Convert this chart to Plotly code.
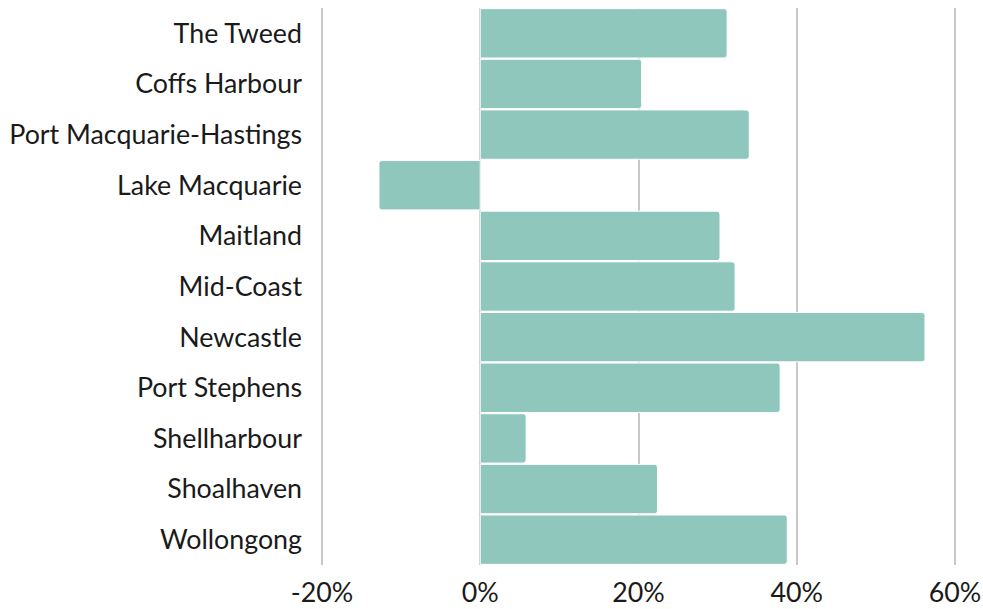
import plotly.graph_objects as go

regions = ["The Tweed", "Coffs Harbour", "Port Macquarie-Hastings", "Lake Macquarie",
           "Maitland", "Mid-Coast", "Newcastle", "Port Stephens", "Shellharbour",
           "Shoalhaven", "Wollongong"]
values = [31.2, 20.4, 34.0, -12.8, 30.3, 32.2, 56.2, 37.9, 5.8, 22.4, 38.8]
tick_vals = [-20, 0, 20, 40, 60]
tick_text = ["-20%", "0%", "20%", "40%", "60%"]

fig = go.Figure(go.Bar(
    y=regions, x=values, orientation="h",
    marker=dict(color="#90c7bd", line=dict(color="white", width=1)),
))
fig.update_layout(
    width=983, height=609,
    margin=dict(l=318, r=24, t=8, b=44, pad=0),
    plot_bgcolor="white", paper_bgcolor="white",
    bargap=0.025, barcornerradius=3,
    font=dict(family="Lato", size=26.8, color="#1a1a1a"),
    showlegend=False,
)
fig.update_xaxes(range=[-20.5, 60.5], tickvals=tick_vals, ticktext=tick_text,
                 showgrid=True, gridcolor="#c8c8c8", gridwidth=1.5,
                 zeroline=False, ticks="", ticklabelstandoff=9, automargin=False)
fig.update_yaxes(categoryorder="array", categoryarray=regions[::-1],
                 showgrid=False, ticks="", ticklabelstandoff=15, automargin=False)
fig.write_html("out.html")
